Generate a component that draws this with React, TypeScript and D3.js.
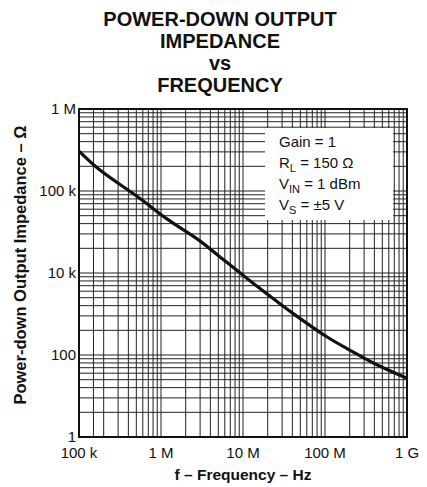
import React from 'react';
import * as d3 from 'd3';

// curve (Hz, ohm on the plot's decade grid)
const freqHz = [1e5, 1.8e5, 5.2e5, 1.17e6, 3e6, 5.2e6, 1.1e7, 1.95e7, 4.1e7, 1.05e8, 2e8, 4.3e8, 1e9];
const impedance = [3.07e5, 1.8e5, 8.5e4, 4.6e4, 2.45e4, 1.58e4, 8.7e3, 5.6e3, 3.2e3, 1.67e3, 1.15e3, 760, 520];

const xTickValues = [1e5, 1e6, 1e7, 1e8, 1e9];
const xTickLabels = ['100 k', '1 M', '10 M', '100 M', '1 G'];
// the printed y labels skip a decade at the bottom, kept as printed
const yTickValues = [1e2, 1e3, 1e4, 1e5, 1e6];
const yTickLabels = ['1', '100', '10 k', '100 k', '1 M'];
const extraXGrid = [1.5e5];

const titleLines = ['POWER-DOWN OUTPUT', 'IMPEDANCE', 'vs', 'FREQUENCY'];
const legendRows = [
  { main: 'Gain = 1', sub: '', rest: '' },
  { main: 'R', sub: 'L', rest: ' = 150 Ω' },
  { main: 'V', sub: 'IN', rest: ' = 1 dBm' },
  { main: 'V', sub: 'S', rest: ' = ±5 V' },
];

const W = 427;
const H = 487;
const FONT = '"Liberation Sans", Arial, Helvetica, sans-serif';

export default function App() {
  const m = { left: 79, right: 407, top: 109, bottom: 437 };

  const x = d3.scaleLog().domain([1e5, 1e9]).range([m.left, m.right]);
  const y = d3.scaleLog().domain([1e2, 1e6]).range([m.bottom, m.top]);

  const xGrid = x.ticks().concat(extraXGrid);
  const yGrid = y.ticks();

  const pts: [number, number][] = freqHz.map((f, i) => [x(f), y(impedance[i])]);
  const path = d3.line().curve(d3.curveCatmullRom.alpha(0.5))(pts) || '';

  return (
    <svg width={W} height={H} style={{ position: 'absolute', left: 0, top: 0, background: '#fff' }} fontFamily={FONT}>
      {titleLines.map((t, i) => (
        <text key={t} x={220} y={26 + i * 22} textAnchor="middle" fontSize={20} fontWeight="bold" fill="#111">
          {t}
        </text>
      ))}

      <g stroke="#222" strokeWidth={1}>
        {xGrid.map((v, i) => (
          <line key={'x' + i} x1={x(v)} x2={x(v)} y1={m.top} y2={m.bottom} />
        ))}
        {yGrid.map((v, i) => (
          <line key={'y' + i} x1={m.left} x2={m.right} y1={y(v)} y2={y(v)} />
        ))}
      </g>

      {/* legend box hides the grid */}
      <rect x={265} y={128} width={128} height={92} fill="#fff" />
      <g fontSize={15} fill="#111">
        {legendRows.map((r, i) => (
          <text key={i} x={279} y={147 + i * 21}>
            {r.main}
            {r.sub && (
              <tspan fontSize={11} dy={4}>
                {r.sub}
              </tspan>
            )}
            {r.sub && <tspan dy={-4}>{r.rest}</tspan>}
          </text>
        ))}
      </g>

      <path d={path} fill="none" stroke="#111" strokeWidth={3.2} strokeLinejoin="round" />

      <rect x={m.left} y={m.top} width={m.right - m.left} height={m.bottom - m.top} fill="none" stroke="#111" strokeWidth={2} />

      <g fontSize={15} fill="#111">
        {xTickValues.map((v, i) => (
          <text key={v} x={x(v)} y={458} textAnchor="middle">
            {xTickLabels[i]}
          </text>
        ))}
        {yTickValues.map((v, i) => (
          <text key={v} x={76} y={y(v) + 5} textAnchor="end">
            {yTickLabels[i]}
          </text>
        ))}
      </g>

      <text x={(m.left + m.right) / 2} y={480} textAnchor="middle" fontSize={15.5} fontWeight="bold" fill="#111">
        f – Frequency – Hz
      </text>
      <text
        transform={`translate(26,${(m.top + m.bottom) / 2 - 8}) rotate(-90)`}
        textAnchor="middle"
        fontSize={16.5}
        fontWeight="bold"
        fill="#111"
      >
        Power-down Output Impedance – Ω
      </text>
    </svg>
  );
}
